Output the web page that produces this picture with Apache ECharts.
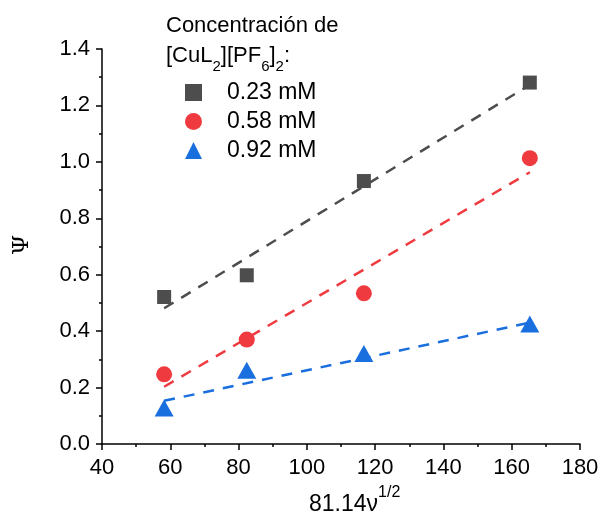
<!DOCTYPE html>
<html style="height: 100%">
<head>
  <meta charset="utf-8">
</head>
<body style="height: 100%; margin: 0; background: #fff">
  <div id="container" style="width: 615px; height: 514px"></div>
  <script src="https://cdn.jsdelivr.net/npm/echarts/dist/echarts.min.js"></script>
  <script>
    // valores
    var xVals = [58.2, 82.4, 116.7, 165.3];
    var psi023 = [0.521, 0.598, 0.932, 1.281];
    var psi058 = [0.247, 0.370, 0.534, 1.013];
    var psi092 = [0.128, 0.261, 0.321, 0.425];

    // extremos de las rectas de ajuste
    var fitX = [58.2, 165.3];
    var fit023 = [0.481, 1.273];
    var fit058 = [0.203, 0.963];
    var fit092 = [0.153, 0.430];

    var names = ['0.23 mM', '0.58 mM', '0.92 mM'];
    var colors = ['#4d4d4d', '#ef3b40', '#1a6fdf'];

    function pairs(xs, ys) {
      return xs.map(function (x, i) { return [x, ys[i]]; });
    }

    var font = 'Liberation Sans, Arial, sans-serif';
    var myChart = echarts.init(document.getElementById('container'));

    var scatterSeries = [
      { name: names[0], data: pairs(xVals, psi023), symbol: 'rect', symbolSize: 14 },
      { name: names[1], data: pairs(xVals, psi058), symbol: 'circle', symbolSize: 16 },
      { name: names[2], data: pairs(xVals, psi092), symbol: 'triangle', symbolSize: [19, 17] }
    ].map(function (s, i) {
      s.type = 'scatter';
      s.z = 5;
      s.itemStyle = { color: colors[i], opacity: 1 };
      return s;
    });

    var fitSeries = [fit023, fit058, fit092].map(function (f, i) {
      return {
        type: 'line',
        data: pairs(fitX, f),
        showSymbol: false,
        symbol: 'none',
        silent: true,
        z: 2,
        lineStyle: { color: colors[i], width: 2.5, type: [11, 9] }
      };
    });

    var tickStyle = { color: '#000', width: 1.5 };

    var option = {
      animation: false,
      grid: { left: 102, top: 49, width: 478, height: 395, outerBoundsMode: 'none', containLabel: false },
      xAxis: {
        type: 'value',
        min: 40, max: 180, interval: 20,
        axisLine: { lineStyle: tickStyle },
        axisTick: { inside: false, length: 6, lineStyle: tickStyle },
        minorTick: { show: true, splitNumber: 2, length: 3, lineStyle: tickStyle },
        axisLabel: { fontSize: 22, fontFamily: font, color: '#000', margin: 13 },
        splitLine: { show: false }
      },
      yAxis: {
        type: 'value',
        min: 0, max: 1.4, interval: 0.2,
        axisLine: { show: true, lineStyle: tickStyle },
        axisTick: { show: true, inside: false, length: 6, lineStyle: tickStyle },
        minorTick: { show: true, splitNumber: 2, length: 3, lineStyle: tickStyle },
        axisLabel: {
          fontSize: 22, fontFamily: font, color: '#000', margin: 12,
          formatter: function (v) { return v.toFixed(1); }
        },
        splitLine: { show: false }
      },
      legend: {
        orient: 'vertical',
        left: 180,
        top: 76,
        itemWidth: 17,
        itemHeight: 17,
        itemGap: 6,
        data: names,
        textStyle: { fontSize: 23, fontFamily: font, color: '#000', padding: [0, 0, 0, 20] }
      },
      graphic: [
        {
          type: 'text',
          left: 166,
          top: 15,
          style: { text: 'Concentración de', fontSize: 22, fontFamily: font, fill: '#000' }
        },
        {
          type: 'text',
          left: 166,
          top: 45,
          style: {
            text: '{a|[CuL}{s|2}{a|][PF}{s|6}{a|]}{s|2}{a|:}',
            rich: {
              a: { fontSize: 22, fontFamily: font, fill: '#000', lineHeight: 26, verticalAlign: 'top' },
              s: { fontSize: 15, fontFamily: font, fill: '#000', lineHeight: 16, padding: [14, 0, 0, 0], verticalAlign: 'top' }
            }
          }
        },
        {
          // titulo eje x
          type: 'text',
          left: 309,
          top: 485,
          style: {
            text: '{a|81.14ν}{s|1/2}',
            rich: {
              a: { fontSize: 23, fontFamily: font, fill: '#000', lineHeight: 27, padding: [8, 0, 0, 0], verticalAlign: 'top' },
              s: { fontSize: 16, fontFamily: font, fill: '#000', lineHeight: 17, verticalAlign: 'top' }
            }
          }
        },
        {
          // titulo eje y
          type: 'text',
          x: 22.5,
          y: 245,
          rotation: Math.PI / 2,
          style: {
            text: 'Ψ',
            fontSize: 23, fontFamily: 'DejaVu Serif, serif', fill: '#000',
            align: 'center', verticalAlign: 'middle'
          }
        }
      ],
      series: fitSeries.concat(scatterSeries)
    };

    myChart.setOption(option);
  </script>
</body>
</html>
